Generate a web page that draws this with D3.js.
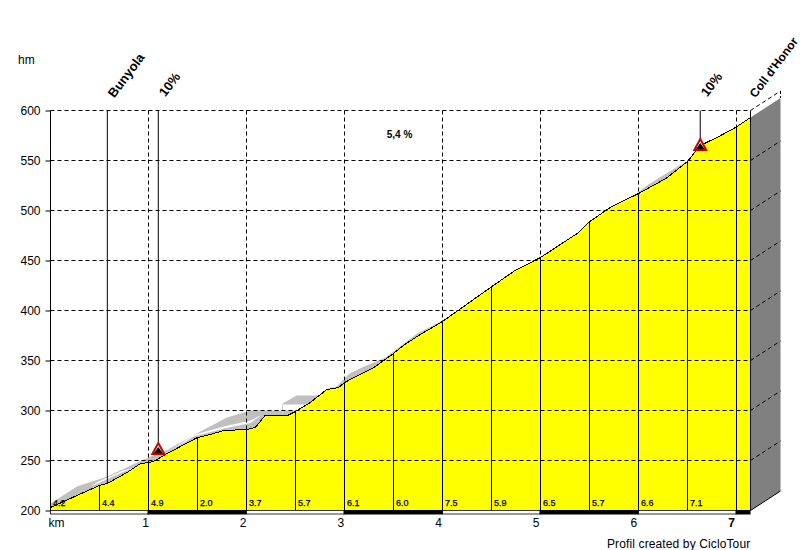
<!DOCTYPE html>
<html>
<head>
<meta charset="utf-8">
<script src="https://cdn.jsdelivr.net/npm/d3@7"></script>
<style>
  html, body { margin: 0; padding: 0; background: #fff; }
  svg { display: block; font-family: "Liberation Sans", Arial, sans-serif; }
</style>
</head>
<body>
<div id="chart"></div>
<script>
// road profile, km / metres
var profileKm = [0, 0.27, 0.5, 0.58, 0.78, 0.92, 1, 1.05, 1.19, 1.5, 1.63, 1.77, 2, 2.09, 2.19, 2.42, 2.5, 2.65, 2.82, 2.94, 3, 3.3, 3.5, 3.6, 3.74, 4, 4.49, 4.74, 5, 5.39, 5.49, 5.71, 6, 6.28, 6.5, 6.63, 6.8, 6.99, 7.143]
var profileElev = [203, 215, 225, 227, 238, 247, 248, 249, 257, 273, 276, 280, 281, 283, 295, 295, 299, 308, 321, 323, 328, 343, 357, 365, 374, 389, 423, 440, 453, 478, 488, 503, 517, 532, 549, 565, 573, 583, 593]

// grey shadow behind the profile
var shadowKm = [0, 0.27, 0.58, 0.95, 1.2, 1.53, 1.8, 2.04, 2.14, 2.36, 2.37, 2.51, 2.76, 2.83, 2.92, 3.0, 3.05, 3.2, 3.35, 3.42, 3.74, 3.88, 4, 5.9, 6.1, 6.4, 6.5]
var shadowElev = [207, 224, 234, 251, 261, 279, 293, 300, 300, 300, 307, 315, 315, 322, 324, 332, 337, 344, 350, 353, 377, 384, 390, 511, 526, 544, 549]

// white streaks inside the shadow
var streakKm = [0.41, 0.48, 0.74, 0.87, 1.18, 1.46, 1.77, 2.04, 2.16, 2.365, 2.375, 2.65, 2.66]
var streakTop = [224, 228.5, 240, 243, 257, 275.5, 284, 290, 296, 296, 306, 306, 307]
var streakBottom = [224, 227, 238.5, 243, 257, 274, 282, 287.5, 296, 296, 300, 300, 307]

var sectionKm = [0, 0.5, 1, 1.5, 2, 2.5, 3, 3.5, 4, 4.5, 5, 5.5, 6, 6.5]
var sectionGrade = ["4.2", "4.4", "4.9", "2.0", "3.7", "5.7", "6.1", "6.0", "7.5", "5.9", "6.5", "5.7", "6.6", "7.1"]

var kmTicks = [0, 1, 2, 3, 4, 5, 6, 7]
var elevTicks = [200, 250, 300, 350, 400, 450, 500, 550, 600]
var blackBars = [[1, 2], [3, 4], [5, 6], [7, 7.143]]
var whiteBars = [[0, 1], [2, 3], [4, 5], [6, 7]]

var placeKm = [0.58, 7.143]
var placeNames = ["Bunyola", "Coll d'Honor"]
var steepKm = [1.1, 6.63]
var steepElev = [261, 565]
var steepLabels = ["10%", "10%"]
var averageGrade = "5,4 %"
var credit = "Profil created by CicloTour"

var width = 800
var height = 550
var depthX = 30
var depthY = -19.5
var kmEnd = 7.143

var svg = d3.select("#chart").append("svg")
  .attr("width", width)
  .attr("height", height)

var x = d3.scaleLinear().domain([0, 7]).range([50.5, 736.5])
var y = d3.scaleLinear().domain([200, 600]).range([510.5, 110.5])

var dash = "4,3"

function elevAt(km) {
  var i = d3.bisectLeft(profileKm, km)
  if (i <= 0) return profileElev[0]
  if (i >= profileKm.length) return profileElev[profileKm.length - 1]
  var t = (km - profileKm[i - 1]) / (profileKm[i] - profileKm[i - 1])
  return profileElev[i - 1] + t * (profileElev[i] - profileElev[i - 1])
}

// grey side of the box
var xEnd = x(kmEnd)
svg.append("path")
  .attr("d", d3.line()([
    [xEnd, y(elevAt(kmEnd))],
    [xEnd + depthX, y(elevAt(kmEnd)) + depthY],
    [xEnd + depthX, y(200) + depthY],
    [xEnd, y(200)]
  ]) + "Z")
  .attr("fill", "#808080")

// shadow, streaks, then the yellow covers whatever is under the road
svg.append("path")
  .datum(shadowKm)
  .attr("d", d3.area()
    .x(function(d) { return x(d) })
    .y0(y(200))
    .y1(function(d, i) { return y(shadowElev[i]) }))
  .attr("fill", "#c0c0c0")

svg.append("path")
  .datum(streakKm)
  .attr("d", d3.area()
    .x(function(d) { return x(d) })
    .y0(function(d, i) { return y(streakBottom[i]) })
    .y1(function(d, i) { return y(streakTop[i]) }))
  .attr("fill", "#ffffff")

svg.append("path")
  .datum(profileKm)
  .attr("d", d3.area()
    .x(function(d) { return x(d) })
    .y0(y(200))
    .y1(function(d, i) { return y(profileElev[i]) }))
  .attr("fill", "#ffff00")

// horizontal grid, carried on across the side
svg.selectAll(".hgrid")
  .data(elevTicks.filter(function(d) { return d > 200 }))
  .enter().append("path")
  .attr("class", "hgrid")
  .attr("d", function(d) {
    return "M" + x(0) + "," + y(d) + "H" + xEnd + "l" + depthX + "," + depthY
  })
  .attr("fill", "none")
  .attr("stroke", "#000")
  .attr("stroke-dasharray", dash)

svg.append("path")
  .attr("d", "M" + (xEnd + depthX) + "," + (y(600) + depthY) + "V" + (y(elevAt(kmEnd)) + depthY))
  .attr("stroke", "#000")
  .attr("stroke-dasharray", "3,2")

svg.append("path")
  .attr("d", "M" + xEnd + "," + y(200) + "l" + depthX + "," + depthY)
  .attr("stroke", "#000")

// km lines are dashed above the road, all section lines solid below it
svg.selectAll(".kmdash")
  .data(kmTicks.slice(1))
  .enter().append("line")
  .attr("class", "kmdash")
  .attr("x1", function(d) { return x(d) })
  .attr("x2", function(d) { return x(d) })
  .attr("y1", y(600))
  .attr("y2", function(d) { return y(elevAt(d)) })
  .attr("stroke", "#000")
  .attr("stroke-dasharray", dash)

svg.selectAll(".section")
  .data(sectionKm.slice(1).concat([7, kmEnd]))
  .enter().append("line")
  .attr("class", "section")
  .attr("x1", function(d) { return x(d) })
  .attr("x2", function(d) { return x(d) })
  .attr("y1", function(d) { return y(elevAt(d)) })
  .attr("y2", y(200))
  .attr("stroke", "#000")

// road line
svg.append("path")
  .datum(profileKm)
  .attr("d", d3.line()
    .x(function(d) { return x(d) })
    .y(function(d, i) { return y(profileElev[i]) }))
  .attr("fill", "none")
  .attr("stroke", "#000")
  .attr("shape-rendering", "crispEdges")

// place poles
svg.selectAll(".pole")
  .data(placeKm)
  .enter().append("line")
  .attr("class", "pole")
  .attr("x1", function(d) { return x(d) })
  .attr("x2", function(d) { return x(d) })
  .attr("y1", y(600))
  .attr("y2", function(d) { return y(elevAt(d)) })
  .attr("stroke", "#000")

// the last name only just fits the window, so it runs a bit smaller
svg.selectAll(".placeLabel")
  .data(placeNames)
  .enter().append("text")
  .attr("class", "placeLabel")
  .attr("transform", function(d, i) {
    return "translate(" + (x(placeKm[i]) + (i === 1 ? 5 : 7)) + "," + (y(600) - 12) + ") rotate(-53)"
  })
  .attr("font-size", function(d, i) { return i === 1 ? 12 : 13 })
  .attr("font-weight", "bold")
  .attr("fill", "#000")
  .text(function(d) { return d })

// steep markers
svg.selectAll(".steepPole")
  .data(steepKm)
  .enter().append("line")
  .attr("class", "steepPole")
  .attr("x1", function(d) { return x(d) })
  .attr("x2", function(d) { return x(d) })
  .attr("y1", y(600))
  .attr("y2", function(d, i) { return y(steepElev[i]) - 6 })
  .attr("stroke", "#000")

var marker = svg.selectAll(".steep")
  .data(steepKm)
  .enter().append("g")
  .attr("class", "steep")
  .attr("transform", function(d, i) {
    return "translate(" + x(d) + "," + y(steepElev[i]) + ")"
  })

marker.append("path")
  .attr("d", "M0,-6.5L6,4.5H-6Z")
  .attr("fill", "#fff")
  .attr("stroke", "#d40000")
  .attr("stroke-width", 2)

marker.append("path")
  .attr("d", "M0,-2.5L4.5,3.8H-4.5Z")
  .attr("fill", "#000")

svg.selectAll(".steepLabel")
  .data(steepLabels)
  .enter().append("text")
  .attr("class", "steepLabel")
  .attr("transform", function(d, i) {
    return "translate(" + (x(steepKm[i]) + 7) + "," + (y(600) - 13) + ") rotate(-53)"
  })
  .attr("font-size", 13)
  .attr("font-weight", "bold")
  .attr("fill", "#000")
  .text(function(d) { return d })

// bar under the profile
svg.selectAll(".barWhite")
  .data(whiteBars)
  .enter().append("rect")
  .attr("class", "barWhite")
  .attr("x", function(d) { return x(d[0]) })
  .attr("y", y(200))
  .attr("width", function(d) { return x(d[1]) - x(d[0]) })
  .attr("height", 3.5)
  .attr("fill", "#fff")
  .attr("stroke", "#000")
  .attr("stroke-width", 0.8)

svg.selectAll(".barBlack")
  .data(blackBars)
  .enter().append("rect")
  .attr("class", "barBlack")
  .attr("x", function(d) { return x(d[0]) - 1 })
  .attr("y", y(200) - 0.5)
  .attr("width", function(d) { return x(d[1]) - x(d[0]) + 1 })
  .attr("height", 4.5)
  .attr("fill", "#000")

// section gradients
svg.selectAll(".grade")
  .data(sectionGrade)
  .enter().append("text")
  .attr("class", "grade")
  .attr("x", function(d, i) { return x(sectionKm[i]) + 2.5 })
  .attr("y", 506)
  .attr("font-size", 9)
  .attr("fill", "#000")
  .attr("stroke", "#000")
  .attr("stroke-width", 0.25)
  .text(function(d) { return d })

// axes
var yAxis = d3.axisLeft(y)
  .tickValues(elevTicks)
  .tickSize(5)
  .tickPadding(5)
var gy = svg.append("g").attr("transform", "translate(" + x(0) + ",0)").call(yAxis)
gy.select(".domain").attr("d", "M0," + y(600) + "V" + y(200))
gy.selectAll("text").attr("font-size", 12).attr("fill", "#000")
gy.attr("font-family", null)

var xAxis = d3.axisBottom(x)
  .tickValues(kmTicks)
  .tickSize(0)
  .tickFormat(function(d) { return d === 0 ? "km" : d })
var gx = svg.append("g").attr("transform", "translate(0,519)").call(xAxis)
gx.attr("font-family", null)
gx.select(".domain").remove()
gx.selectAll("text")
  .attr("font-size", 12)
  .attr("fill", "#000")
  .attr("dy", "0.4em")
  .attr("dx", function(d) { return d === 0 ? 5.5 : -3.2 - d * 0.33 })
  .attr("font-weight", function(d) { return d === 7 ? "bold" : null })

svg.append("text")
  .attr("x", 18)
  .attr("y", 64)
  .attr("font-size", 12)
  .attr("fill", "#000")
  .text("hm")

svg.append("text")
  .attr("x", 399.5)
  .attr("y", 138)
  .attr("text-anchor", "middle")
  .attr("font-size", 10)
  .attr("font-weight", "bold")
  .attr("fill", "#000")
  .text(averageGrade)

svg.append("text")
  .attr("x", 607)
  .attr("y", 548)
  .attr("font-size", 12)
  .attr("letter-spacing", 0.12)
  .attr("fill", "#000")
  .text(credit)
</script>
</body>
</html>
